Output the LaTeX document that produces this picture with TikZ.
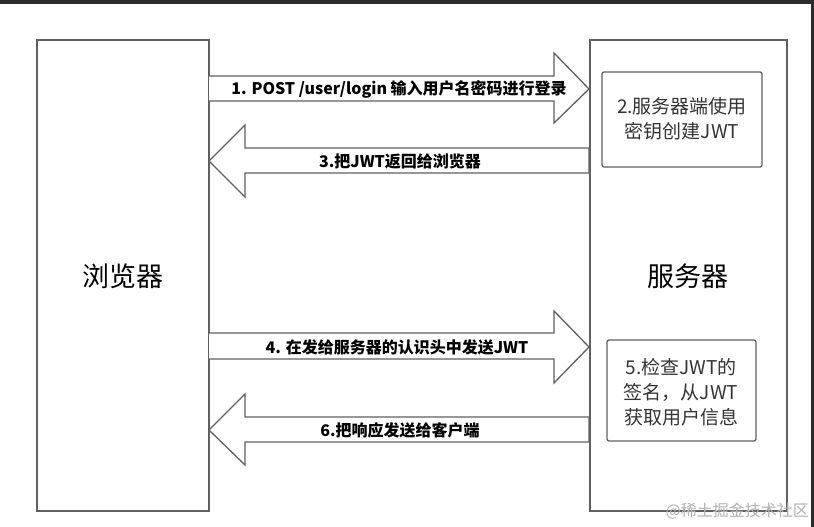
\documentclass[tikz,border=0pt]{standalone}
\usepackage{fontspec}
\setmainfont{Noto Sans CJK SC}
\definecolor{edge}{HTML}{606060}
\definecolor{txt}{HTML}{333333}
\definecolor{frame}{HTML}{2B2B2B}
\begin{document}
\begin{tikzpicture}[x=1pt,y=-1pt,
  box/.style={draw=edge,line width=1.5pt,fill=white},
  inner/.style={draw=edge,line width=1.3pt,rounded corners=2pt,fill=white},
  arrowshape/.style={draw=edge,line width=1.3pt,fill=white,line join=miter},
  alabel/.style={font=\fontsize{16}{18}\selectfont\bfseries,text=black,inner sep=0pt},
  blabel/.style={font=\fontsize{19}{25}\selectfont,text=txt,align=center,inner sep=0pt},
  big/.style={font=\fontsize{27}{30}\selectfont,text=black,inner sep=0pt}]
\useasboundingbox (0,0) rectangle (814,527);
\fill[white] (0,0) rectangle (814,527);
\fill[frame] (0,0) rectangle (814,4.5);
\fill[frame] (811,0) rectangle (814,527);
% main boxes
\draw[box] (37,40) rectangle (209,511);
\draw[box] (590,40) rectangle (787,511);
\node[big] (browser) at (123,276) {浏览器};
\node[big] (server) at (688,276) {服务器};
% arrow 1
\draw[arrowshape] (209,76) -- (554,76) -- (554,53) -- (589,89) -- (554,123) -- (554,101) -- (209,101);
\node[alabel] (l1) at (399,89) {1. POST /user/login 输入用户名密码进行登录};
% arrow 3
\draw[arrowshape] (589,148) -- (245,148) -- (245,125) -- (209,161) -- (245,197) -- (245,173) -- (589,173) -- cycle;
\node[alabel] (l3) at (400,161) {3.把JWT返回给浏览器};
% arrow 4
\draw[arrowshape] (209,333) -- (554,333) -- (554,311) -- (589,347) -- (554,383) -- (554,359) -- (209,359);
\node[alabel] (l4) at (397,347) {4. 在发给服务器的认识头中发送JWT};
% arrow 6
\draw[arrowshape] (589,417) -- (245,417) -- (245,394) -- (209,430) -- (245,465) -- (245,442) -- (589,442) -- cycle;
\node[alabel] (l6) at (400,430) {6.把响应发送给客户端};
% inner boxes
\draw[inner] (602,72) rectangle (762,167);
\node[blabel] (b2) at (682,119) {2.服务器端使用\\密钥创建JWT};
\draw[inner] (607,340) rectangle (756,441);
\node[blabel] (b5) at (681,392) {5.检查JWT的\\签名，从JWT\\获取用户信息};
% watermark
\node[font=\fontsize{16}{18}\selectfont,text=black!30,inner sep=0pt,anchor=east] (wm) at (809,511) {@稀土掘金技术社区};
\end{tikzpicture}
\end{document}
